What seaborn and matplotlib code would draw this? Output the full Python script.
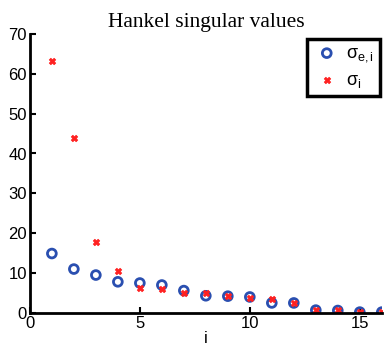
import numpy as np
import pandas as pd
import matplotlib
matplotlib.use("Agg")
import matplotlib.pyplot as plt
import seaborn as sns

idx = list(range(1, 17))
sigma_e = [14.9, 11.0, 9.5, 7.8, 7.5, 7.0, 5.6, 4.3, 4.2, 4.0, 2.5, 2.5, 0.7, 0.6, 0.2, 0.2]
sigma = [63.3, 44.0, 17.8, 10.5, 6.2, 5.9, 5.0, 4.9, 4.3, 3.7, 3.5, 2.5, 0.8, 0.7, 0.3, 0.2]
labels = ['σ$_{\\mathrm{e,i}}$', 'σ$_{\\mathrm{i}}$']

sns.set_style("white")
plt.rcParams['font.family'] = ['Liberation Sans', 'DejaVu Sans']
plt.rcParams['mathtext.fontset'] = 'custom'
plt.rcParams['mathtext.rm'] = 'Liberation Sans'
plt.rcParams['mathtext.it'] = 'Liberation Sans:italic'
plt.rcParams['text.color'] = 'black'
plt.rcParams['axes.labelcolor'] = 'black'
plt.rcParams['xtick.color'] = 'black'
plt.rcParams['ytick.color'] = 'black'

fig = plt.figure(figsize=(3.88, 3.5), dpi=100)
ax = fig.add_axes([0.077, 0.106, 0.907, 0.797])

df_e = pd.DataFrame({'i': idx, 'v': sigma_e})
df_s = pd.DataFrame({'i': idx, 'v': sigma})
sns.scatterplot(data=df_e, x='i', y='v', ax=ax, marker='o', s=40,
                facecolors='none', edgecolor='#2a4fb0', linewidth=2, label=labels[0])
sns.scatterplot(data=df_s, x='i', y='v', ax=ax, marker='X', s=22,
                color='#ff2020', edgecolor='#ff2020', linewidth=0.5, label=labels[1])

ax.set_xlim(0, 16)
ax.set_ylim(0, 70)
ax.set_xticks([0, 5, 10, 15])
ax.set_yticks([0, 10, 20, 30, 40, 50, 60, 70])
ax.set_xlabel('i', fontsize=12, labelpad=0)
ax.set_ylabel('')
ax.set_title('Hankel singular values', fontsize=15.5, family='Liberation Serif', pad=5)
for s in ['top', 'right']:
    ax.spines[s].set_visible(False)
for s in ['left', 'bottom']:
    ax.spines[s].set_linewidth(2)
    ax.spines[s].set_color('black')
ax.tick_params(direction='in', length=4, width=1.5, labelsize=12, pad=2,
               left=True, bottom=True)

leg = ax.legend(loc='upper right', bbox_to_anchor=(1.0, 0.99), frameon=True,
                fancybox=False, fontsize=13, handletextpad=0.3, borderpad=0.35,
                handlelength=1.5, labelspacing=0.4, borderaxespad=0.1,
                framealpha=1)
leg.get_frame().set_edgecolor('black')
leg.get_frame().set_linewidth(2.5)

fig.savefig('out.png', dpi=100)
